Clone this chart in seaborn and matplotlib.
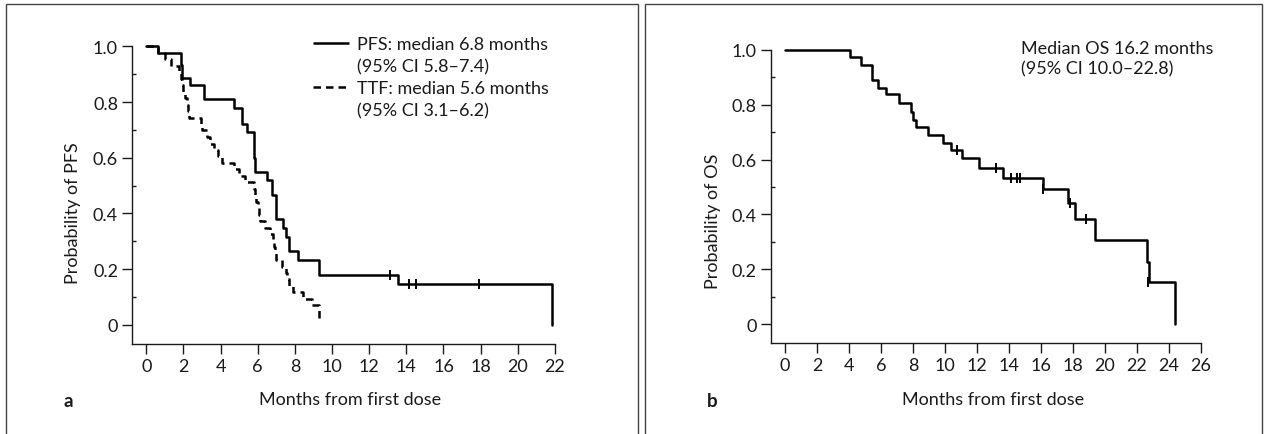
import numpy as np
import pandas as pd
import matplotlib
matplotlib.use("Agg")
import matplotlib.pyplot as plt
from matplotlib.lines import Line2D
from matplotlib.patches import Rectangle
import seaborn as sns

# panel a: PFS and TTF (Kaplan-Meier steps)
pfs_months = [0, 0.64, 1.85, 1.95, 2.35, 3.12, 4.72, 5.17, 5.4, 5.79, 5.88, 6.48, 6.78, 6.96,
              7.37, 7.55, 7.68, 8.18, 9.31, 13.57, 21.86]
pfs_surv = [1.0, 0.977, 0.932, 0.886, 0.863, 0.81, 0.78, 0.723, 0.694, 0.60, 0.55, 0.52, 0.465, 0.379,
            0.348, 0.316, 0.264, 0.233, 0.178, 0.146, 0.0]
pfs_cens_months = [13.12, 14.16, 14.5, 17.9]
pfs_cens_surv = [0.178, 0.146, 0.146, 0.146]

ttf_months = [0, 0.64, 1.0, 1.36, 1.77, 1.85, 1.95, 2.0, 2.1, 2.2, 2.25, 2.3, 2.95, 3.0, 3.25, 3.45,
              3.65, 3.85, 4.1, 4.7, 5.0, 5.3, 5.8, 5.85, 5.9, 6.0, 6.05, 6.1, 6.4, 6.65, 6.85, 6.9,
              6.95, 7.0, 7.3, 7.55, 7.6, 7.7, 7.9, 8.45, 8.9, 9.3]
ttf_surv = [1.0, 0.977, 0.954, 0.93, 0.907, 0.884, 0.86, 0.837, 0.814, 0.791, 0.767, 0.744, 0.721,
            0.698, 0.674, 0.651, 0.628, 0.605, 0.581, 0.558, 0.535, 0.512, 0.488, 0.465, 0.442,
            0.419, 0.395, 0.372, 0.349, 0.326, 0.302, 0.279, 0.256, 0.233, 0.209, 0.186, 0.163,
            0.14, 0.116, 0.093, 0.07, 0.015]

# panel b: OS
os_months = [0, 4.06, 4.73, 5.42, 5.83, 6.32, 7.15, 7.85, 8.0, 8.2, 8.93, 9.85, 10.35, 11.04, 12.15,
             13.6, 16.1, 17.7, 18.1, 19.4, 22.6, 22.75, 24.4]
os_surv = [1.0, 0.976, 0.945, 0.89, 0.86, 0.84, 0.806, 0.775, 0.744, 0.72, 0.69, 0.662, 0.634, 0.604,
           0.569, 0.533, 0.491, 0.443, 0.384, 0.305, 0.228, 0.155, 0.0]
os_cens_months = [10.73, 13.2, 14.1, 14.5, 14.7, 16.1, 17.8, 18.8, 22.7]
os_cens_surv = [0.634, 0.569, 0.533, 0.533, 0.533, 0.491, 0.443, 0.384, 0.155]

y_ticks = [0, 0.2, 0.4, 0.6, 0.8, 1.0]
y_tick_labels = ["0", "0.2", "0.4", "0.6", "0.8", "1.0"]

sns.set_theme(style="ticks")
plt.rcParams["font.family"] = ["Lato", "DejaVu Sans"]
fs = 13
plt.rcParams["font.size"] = fs
ink = "#1a1a1a"

W, H = 1265, 435
fig = plt.figure(figsize=(W / 100, H / 100), dpi=100)


def axes_px(x0, x1, ytop, ybot):
    return fig.add_axes([x0 / W, 1 - ybot / H, (x1 - x0) / W, (ybot - ytop) / H])


def style_axes(ax, xmin, xmax, xend, ylab):
    ax.set_xlim(xmin, xmax)
    ax.set_ylim(-0.07, 1.02)
    ax.spines[["top", "right"]].set_visible(False)
    ax.spines["left"].set_bounds(-0.07, 1.0)
    ax.spines["bottom"].set_bounds(xmin, xend)
    for s in ["left", "bottom"]:
        ax.spines[s].set_linewidth(1.0)
        ax.spines[s].set_color(ink)
    ax.set_yticks(y_ticks, y_tick_labels)
    ax.set_yticks(np.arange(0.1, 1.0, 0.2), minor=True)
    ax.set_xticks(np.arange(0, xend + 1, 2))
    ax.tick_params(axis="both", which="major", direction="out", length=7, width=1.0,
                   color=ink, labelcolor=ink, labelsize=fs, pad=3)
    ax.tick_params(axis="y", which="minor", direction="in", length=3, width=1.0, color=ink)
    ax.set_xlabel("Months from first dose", color=ink, fontsize=fs)
    ax.set_ylabel(ylab, color=ink, fontsize=fs)


# ---- panel a ----
ax1 = axes_px(131.9, 560.5, 41.9, 345.2)
sns.lineplot(x=pfs_months, y=pfs_surv, drawstyle="steps-post", color="black", lw=1.8,
             estimator=None, sort=False, ax=ax1)
sns.lineplot(x=ttf_months, y=ttf_surv, drawstyle="steps-post", color="black", lw=1.8,
             linestyle=(0, (3, 2)), estimator=None, sort=False, ax=ax1)
sns.scatterplot(x=pfs_cens_months, y=pfs_cens_surv, marker="|", s=60, color="black",
                linewidth=1.4, ax=ax1)
style_axes(ax1, -0.77, 22.3, 22, "Probability of PFS")
ax1.xaxis.set_label_coords(0.509, -0.155)
ax1.yaxis.set_label_coords(-0.119, 0.435)

handles = [Line2D([], [], color="black", lw=1.8, solid_capstyle="butt"),
           Line2D([], [], color="none"),
           Line2D([], [], color="black", lw=1.8, linestyle=(0, (3, 2)), dash_capstyle="butt"),
           Line2D([], [], color="none")]
labels = ["PFS: median 6.8 months", "(95% CI 5.8\u20137.4)",
          "TTF: median 5.6 months", "(95% CI 3.1\u20136.2)"]
ax1.legend(handles, labels, loc="upper left", bbox_to_anchor=(313 / W, 1 - 37 / H),
           bbox_transform=fig.transFigure, frameon=False, borderpad=0, borderaxespad=0,
           handlelength=2.0, handletextpad=0.45, labelspacing=0.33, fontsize=fs,
           labelcolor=ink)

# ---- panel b ----
ax2 = axes_px(770.8, 1205.8, 45.5, 344.2)
sns.lineplot(x=os_months, y=os_surv, drawstyle="steps-post", color="black", lw=1.8,
             estimator=None, sort=False, ax=ax2)
sns.scatterplot(x=os_cens_months, y=os_cens_surv, marker="|", s=60, color="black",
                linewidth=1.4, ax=ax2)
style_axes(ax2, -0.89, 26.3, 26, "Probability of OS")
ax2.xaxis.set_label_coords(0.511, -0.16)
ax2.yaxis.set_label_coords(-0.114, 0.41)
ax2.text(0.575, 1.015, "Median OS 16.2 months\n(95% CI 10.0\u201322.8)", transform=ax2.transAxes,
         ha="left", va="top", fontsize=fs, color=ink, linespacing=1.3)

# panel letters and frames
fig.text(68 / W, 1 - 402 / H, "a", fontsize=13.5, fontweight="bold", color=ink, ha="center", va="center")
fig.text(712 / W, 1 - 402 / H, "b", fontsize=13.5, fontweight="bold", color=ink, ha="center", va="center")
for x0, x1 in [(6, 638), (645, 1262)]:
    fig.add_artist(Rectangle((x0 / W, -0.05), (x1 - x0) / W, 1.05 - 5 / H, transform=fig.transFigure,
                             fill=False, edgecolor="#444444", lw=1.0))

fig.savefig("out.png", dpi=100)
